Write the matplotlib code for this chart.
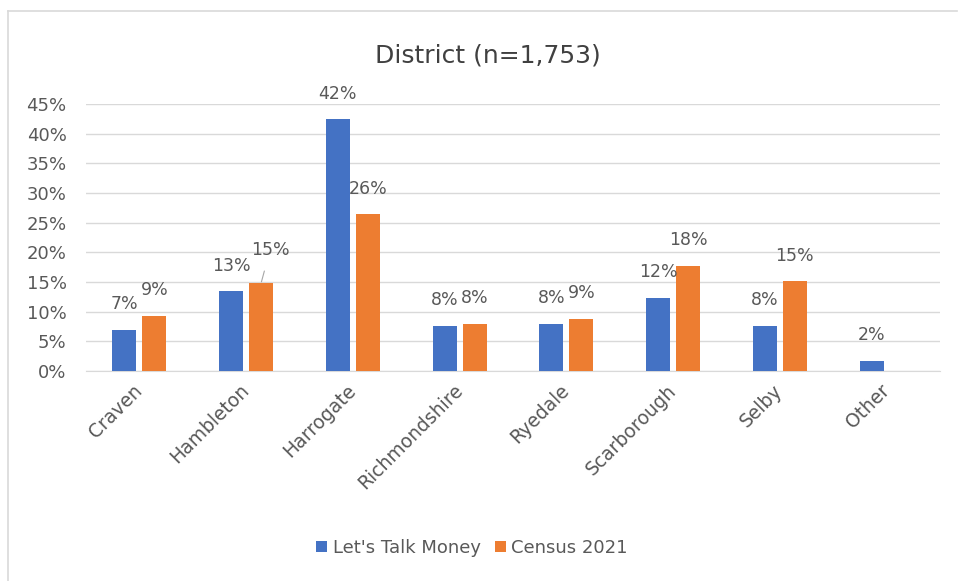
import numpy as np
import matplotlib.pyplot as plt
from matplotlib.lines import Line2D

# District shares: survey respondents vs. Census 2021
districts = ['Craven', 'Hambleton', 'Harrogate', 'Richmondshire',
             'Ryedale', 'Scarborough', 'Selby', 'Other']
ltm = [0.069, 0.134, 0.424, 0.076, 0.079, 0.123, 0.076, 0.017]
census = [0.093, 0.148, 0.264, 0.080, 0.088, 0.177, 0.151, None]
yticks = [0, 0.05, 0.10, 0.15, 0.20, 0.25, 0.30, 0.35, 0.40, 0.45]

BLUE = '#4472C4'
ORANGE = '#ED7D31'
TEXT = '#595959'
GRID = '#d9d9d9'

plt.rcParams['font.family'] = ['DejaVu Sans']

W, H = 960, 581
fig = plt.figure(figsize=(W / 100, H / 100), dpi=100)
ax = fig.add_axes([86 / W, 1 - 371 / H, (940 - 86) / W, (371 - 104) / H])

x = np.arange(len(districts))
bw = 0.225
off = 0.14
census_vals = [np.nan if v is None else v for v in census]
ax.bar(x - off, ltm, bw, color=BLUE, label="Let's Talk Money", zorder=3)
ax.bar(x + off, census_vals, bw, color=ORANGE, label='Census 2021', zorder=3)

# value labels above the bars
lab_fs = 12.5
for xi, v in zip(x, ltm):
    ax.annotate(f'{v:.0%}', (xi - off, v), xytext=(0, 18.5), textcoords='offset points',
                ha='center', va='center', fontsize=lab_fs, color=TEXT)
for xi, v in zip(x, census):
    if v is None:
        continue
    if districts[xi] == 'Hambleton':
        # label pushed up/right with a leader line
        ax.annotate(f'{v:.0%}', (xi + off, v), xytext=(6.5, 24), textcoords='offset points',
                    ha='center', va='center', fontsize=lab_fs, color=TEXT,
                    arrowprops=dict(arrowstyle='-', color='#a6a6a6', lw=0.8,
                                    shrinkA=7, shrinkB=1))
    else:
        ax.annotate(f'{v:.0%}', (xi + off, v), xytext=(0, 18.5), textcoords='offset points',
                    ha='center', va='center', fontsize=lab_fs, color=TEXT)

ax.set_xlim(-0.5, len(districts) - 0.5)
ax.set_ylim(0, 0.45)
ax.set_yticks(yticks)
ax.set_yticklabels([f'{t:.0%}' for t in yticks], fontsize=13, color=TEXT)
ax.set_xticks(x)
ax.set_xticklabels(districts, rotation=45, ha='right', va='center',
                   rotation_mode='anchor', fontsize=13.5, color=TEXT)
ax.tick_params(axis='both', length=0)
ax.tick_params(axis='y', pad=14)
ax.tick_params(axis='x', pad=12)
ax.grid(axis='y', color=GRID, lw=1, zorder=0)
for s in ['top', 'right', 'left']:
    ax.spines[s].set_visible(False)
ax.spines['bottom'].set_color(GRID)

fig.text(488 / W, 1 - 55 / H, 'District (n=1,753)', ha='center', va='center',
         fontsize=18, color='#404040')

fig.legend(loc='center', bbox_to_anchor=(472 / W, 1 - 548 / H), ncol=2, frameon=False,
           handlelength=0.6, handleheight=0.6, handletextpad=0.3, columnspacing=0.8,
           fontsize=13, labelcolor=TEXT)

# chart frame (top and left edges)
fig.add_artist(Line2D([8 / W, 957 / W], [1 - 11 / H, 1 - 11 / H], color=GRID, lw=1.2))
fig.add_artist(Line2D([8 / W, 8 / W], [1 - 11 / H, 0], color=GRID, lw=1.2))

fig.savefig('out.png', dpi=100, facecolor='white')
